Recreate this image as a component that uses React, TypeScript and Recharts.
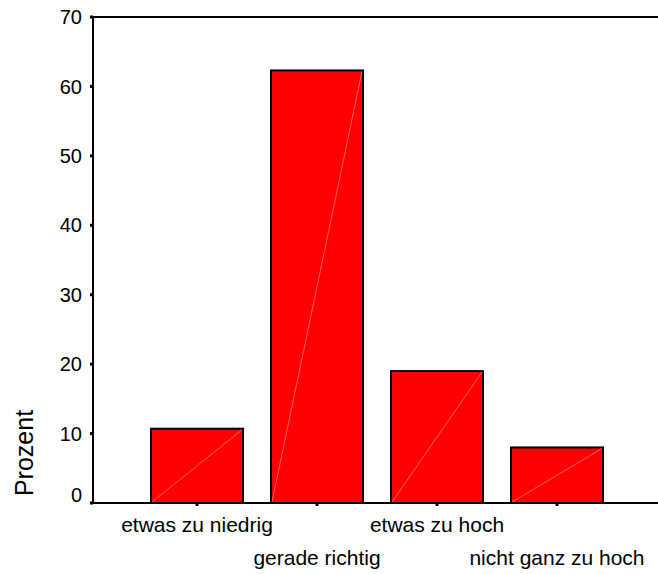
import { Bar, BarChart, ReferenceLine, XAxis, YAxis } from 'recharts'

const categories = ['etwas zu niedrig', 'gerade richtig', 'etwas zu hoch', 'nicht ganz zu hoch']
const percent = [10.7, 62.3, 19.0, 8.0]
const yTicks = [0, 10, 20, 30, 40, 50, 60, 70]

const chartData = categories.map((name, i) => ({ name, value: percent[i] }))

const font = '"Liberation Sans", Arial, Helvetica, sans-serif'

// bar with the faint diagonal line SPSS draws
function DiagBar(props: any) {
  const { x, y, width, height } = props
  return (
    <g>
      <rect x={x} y={y} width={width} height={height} fill="#ff0000" stroke="#000" strokeWidth={2} />
      <line x1={x + 1} y1={y + height - 1} x2={x + width - 1} y2={y + 1} stroke="#ff8c8c" strokeWidth={0.7} />
    </g>
  )
}

function StaggerTick(props: any) {
  const { x, y, payload, index } = props
  return (
    <text x={x} y={y + (index % 2 === 0 ? 24 : 57)} textAnchor="middle" fontSize={21} fontFamily={font} fill="#000">
      {payload.value}
    </text>
  )
}

// the 0 label sits a little above its tick, like in the original
function YTick(props: any) {
  const { x, y, payload } = props
  const lift = payload.value === 0 ? -8 : 0
  return (
    <text x={x} y={y + lift} dy="0.355em" textAnchor="end" fontSize={20} fontFamily={font} fill="#000">
      {payload.value}
    </text>
  )
}

function YLabel(props: any) {
  const { viewBox } = props
  const x = viewBox.x + 33
  const y = viewBox.y + 436
  return (
    <text x={x} y={y} transform={`rotate(-90, ${x}, ${y})`} textAnchor="middle" fontSize={25} fontFamily={font} fill="#000">
      Prozent
    </text>
  )
}

export default function App() {
  return (
    <div style={{ position: 'absolute', left: 0, top: 0 }}>
      <BarChart
        width={658}
        height={574}
        data={chartData}
        margin={{ top: 17, right: 0, left: 0, bottom: 0 }}
        style={{ fontFamily: font }}
      >
        <XAxis
          dataKey="name"
          interval={0}
          padding={{ left: 44, right: 41 }}
          axisLine={{ stroke: '#000', strokeWidth: 2 }}
          tickLine={{ stroke: '#000', strokeWidth: 3 }}
          tickSize={3}
          tickMargin={2}
          tick={<StaggerTick />}
          height={71}
        />
        <YAxis
          width={93}
          domain={[0, 70]}
          ticks={yTicks}
          interval={0}
          axisLine={{ stroke: '#000', strokeWidth: 2 }}
          tickLine={{ stroke: '#000', strokeWidth: 3 }}
          tickSize={3}
          tickMargin={8}
          tick={<YTick />}
          label={<YLabel />}
        />
        <ReferenceLine y={70} stroke="#000" strokeWidth={2} />
        <Bar dataKey="value" barSize={92} shape={<DiagBar />} isAnimationActive={false} />
      </BarChart>
    </div>
  )
}
